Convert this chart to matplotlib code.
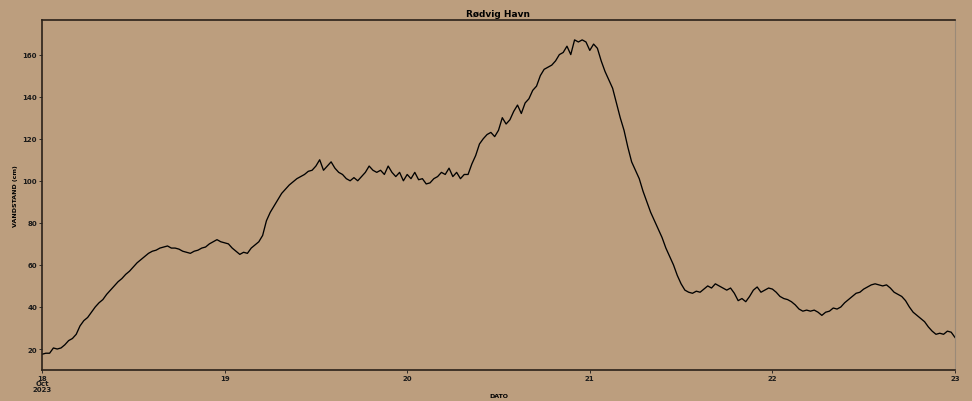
import matplotlib
matplotlib.use("Agg")
import matplotlib.pyplot as plt
import pandas as pd

title = "Rødvig Havn"
xlabel = "DATO"
ylabel = "VANDSTAND (cm)"
start = "2023-10-18 00:00"
step = "30min"
tick_days = ["2023-10-18", "2023-10-19", "2023-10-20", "2023-10-21", "2023-10-22", "2023-10-23"]
tick_labels = ["18\nOct\n2023", "19", "20", "21", "22", "23"]
yticks = [20, 40, 60, 80, 100, 120, 140, 160]

day18 = [17.5, 18, 18, 20.5, 20, 20.5, 22, 24, 25, 27, 31, 33.5, 35, 37.5, 40, 42,
         43.5, 46, 48, 50, 52, 53.5, 55.5, 57, 59, 61, 62.5, 64, 65.5, 66.5, 67, 68,
         68.5, 69, 68, 68, 67.5, 66.5, 66, 65.5, 66.5, 67, 68, 68.5, 70, 71, 72, 71]
day19 = [70.5, 70, 68, 66.5, 65, 66, 65.5, 68, 69.5, 71, 74, 81, 85, 88, 91, 94,
         96, 98, 99.5, 101, 102, 103, 104.5, 105, 107, 110, 105, 107, 109, 106, 104, 103,
         101, 100, 101.5, 100, 102, 104, 107, 105, 104, 105, 103, 107, 104, 102, 104, 100]
day20 = [103, 101, 104, 100.5, 101, 98.5, 99, 101, 102, 104, 103, 106, 102, 104, 101, 103,
         103, 108, 112, 117.5, 120, 122, 123, 121, 124, 130, 127, 129, 133, 136, 132, 137,
         139, 143, 145, 150, 153, 154, 155, 157, 160, 161, 164, 160, 167, 166, 167, 166]
day21 = [162, 165, 163, 157, 152, 148, 144, 137, 130, 124, 116, 109, 105, 101, 95, 90,
         85, 81, 77, 73, 68, 64, 60, 55, 51, 48, 47, 46.5, 47.5, 47, 48.5, 50,
         49, 51, 50, 49, 48, 49, 46.5, 43, 44, 42.5, 45, 48, 49.5, 47, 48, 49]
day22 = [48.5, 47, 45, 44, 43.5, 42.5, 41, 39, 38, 38.5, 38, 38.5, 37.5, 36, 37.5, 38,
         39.5, 39, 40, 42, 43.5, 45, 46.5, 47, 48.5, 49.5, 50.5, 51, 50.5, 50, 50.5, 49,
         47, 46, 45, 43, 40, 37.5, 36, 34.5, 33, 30.5, 28.5, 27, 27.5, 27, 28.5, 28, 25.5]

values = day18 + day19 + day20 + day21 + day22
times = pd.date_range(start, periods=len(values), freq=step)

bg = "#bc9e7e"
fig = plt.figure(figsize=(9.72, 4.02), dpi=100, facecolor=bg)
ax = fig.add_axes([0.0432, 0.077, 0.9393, 0.871])
ax.set_facecolor(bg)
ax.plot(times, values, color="black", linewidth=0.95)

ax.set_xlim(pd.Timestamp(tick_days[0]), pd.Timestamp(tick_days[-1]))
ax.set_ylim(10, 176.5)
ax.set_xticks([pd.Timestamp(d) for d in tick_days])
ax.set_xticklabels(tick_labels, fontsize=5, fontweight="bold", linespacing=0.9)
ax.set_yticks(yticks)
ax.set_yticklabels([str(v) for v in yticks], fontsize=5, fontweight="bold")
ax.tick_params(axis="both", length=2, width=0.6, pad=1.5, colors="#1a1a1a")

ax.set_title(title, fontsize=6.5, fontweight="bold", pad=3)
ax.set_xlabel(xlabel, fontsize=4.5, fontweight="bold", labelpad=1)
ax.set_ylabel(ylabel, fontsize=4.5, fontweight="bold", labelpad=3)

for side in ["left", "bottom", "top"]:
    ax.spines[side].set_color("#2a2118")
    ax.spines[side].set_linewidth(1.2)
ax.spines["right"].set_color("#9a8a78")
ax.spines["right"].set_linewidth(0.8)

fig.savefig("out.png", dpi=100, facecolor=bg)
